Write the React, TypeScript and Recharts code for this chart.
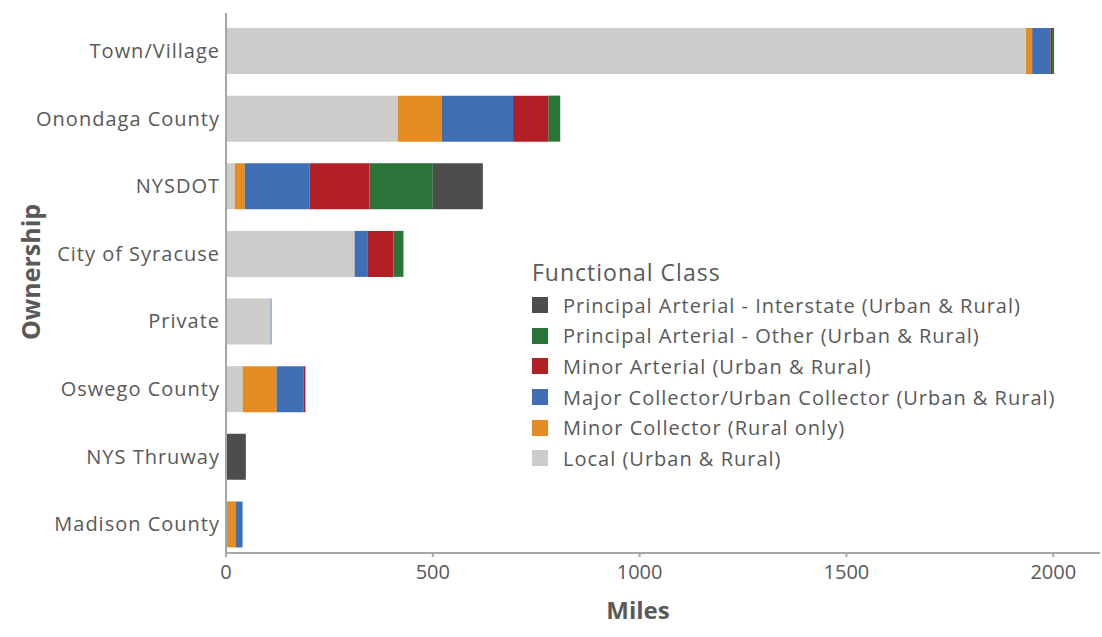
import React from 'react';
import { BarChart, Bar, XAxis, YAxis, Label } from 'recharts';

// Ownership categories, top to bottom
const categories = [
  'Town/Village',
  'Onondaga County',
  'NYSDOT',
  'City of Syracuse',
  'Private',
  'Oswego County',
  'NYS Thruway',
  'Madison County',
];

// Miles per functional class
const local = [1934, 415, 21, 311, 108, 40, 0, 1];
const minorCollector = [15, 107, 24, 0, 0, 82, 0, 22];
const majorCollector = [44, 172, 157, 32, 2, 65, 0, 17];
const minorArterial = [4, 85, 145, 62, 0, 5, 0, 0];
const paOther = [5, 29, 153, 24, 0, 0, 0, 0];
const interstate = [0, 0, 121, 0, 0, 0, 48, 0];

const xTicks = [0, 500, 1000, 1500, 2000];

// stacking order, left to right
const series = [
  { key: 'local', name: 'Local (Urban & Rural)', color: '#CCCCCA', values: local },
  { key: 'minorCollector', name: 'Minor Collector (Rural only)', color: '#E58D22', values: minorCollector },
  { key: 'majorCollector', name: 'Major Collector/Urban Collector (Urban & Rural)', color: '#3F6EB5', values: majorCollector },
  { key: 'minorArterial', name: 'Minor Arterial (Urban & Rural)', color: '#B21F24', values: minorArterial },
  { key: 'paOther', name: 'Principal Arterial - Other (Urban & Rural)', color: '#2A7439', values: paOther },
  { key: 'interstate', name: 'Principal Arterial - Interstate (Urban & Rural)', color: '#4D4D4D', values: interstate },
];

const data = categories.map((name, i) => {
  const row: Record<string, string | number> = { name };
  series.forEach((s) => {
    row[s.key] = s.values[i];
  });
  return row;
});

const FONT = '"Open Sans", Lato, sans-serif';
const TEXT = '#595959';
const AXIS = '#A6A6A6';

// legend drawn as plain html on top of the chart so it doesn't eat plot space
const LegendBox = () => (
  <div style={{ position: 'absolute', left: 532, top: 257, fontFamily: FONT, color: TEXT }}>
    <div style={{ fontSize: 23, lineHeight: '30px', marginBottom: 3, letterSpacing: 1 }}>Functional Class</div>
    {[...series].reverse().map((s) => (
      <div key={s.key} style={{ display: 'flex', alignItems: 'center', height: 30.6 }}>
        <span style={{ width: 16, height: 16, background: s.color, marginRight: 15, flexShrink: 0 }} />
        <span style={{ fontSize: 20, whiteSpace: 'nowrap', letterSpacing: 1 }}>{s.name}</span>
      </div>
    ))}
  </div>
);

export default function App() {
  return (
    <div style={{ position: 'absolute', left: 0, top: 0, width: 1102, height: 637, background: '#fff' }}>
      <BarChart
        width={1102}
        height={637}
        data={data}
        layout="vertical"
        margin={{ top: 13, right: 2, bottom: 14, left: 0 }}
        barSize={46}
      >
        <XAxis
          type="number"
          domain={[0, 2113]}
          ticks={xTicks}
          allowDataOverflow
          height={70}
          stroke={AXIS}
          strokeWidth={2}
          tickSize={4}
          tickMargin={8}
          tick={{ fill: TEXT, fontSize: 20, fontFamily: FONT }}
        >
          <Label
            content={() => (
              <text x={638} y={609} textAnchor="middle" dominantBaseline="central"
                fill={TEXT} fontSize={24} fontWeight="bold" fontFamily={FONT}>
                Miles
              </text>
            )}
          />
        </XAxis>
        <YAxis
          type="category"
          dataKey="name"
          width={226}
          padding={{ top: 4, bottom: -5 }}
          stroke={AXIS}
          strokeWidth={2}
          tickLine={false}
          tickSize={0}
          tickMargin={6}
          interval={0}
          tick={{ fill: TEXT, fontSize: 20, fontFamily: FONT, letterSpacing: 1 }}
        >
          <Label
            content={() => (
              <text x={30} y={272} transform="rotate(-90 30 272)" textAnchor="middle"
                dominantBaseline="central" fill={TEXT} fontSize={25} fontWeight="bold" fontFamily={FONT}>
                Ownership
              </text>
            )}
          />
        </YAxis>
        {series.map((s) => (
          <Bar key={s.key} dataKey={s.key} name={s.name} stackId="a" fill={s.color} isAnimationActive={false} />
        ))}
      </BarChart>
      <LegendBox />
    </div>
  );
}
